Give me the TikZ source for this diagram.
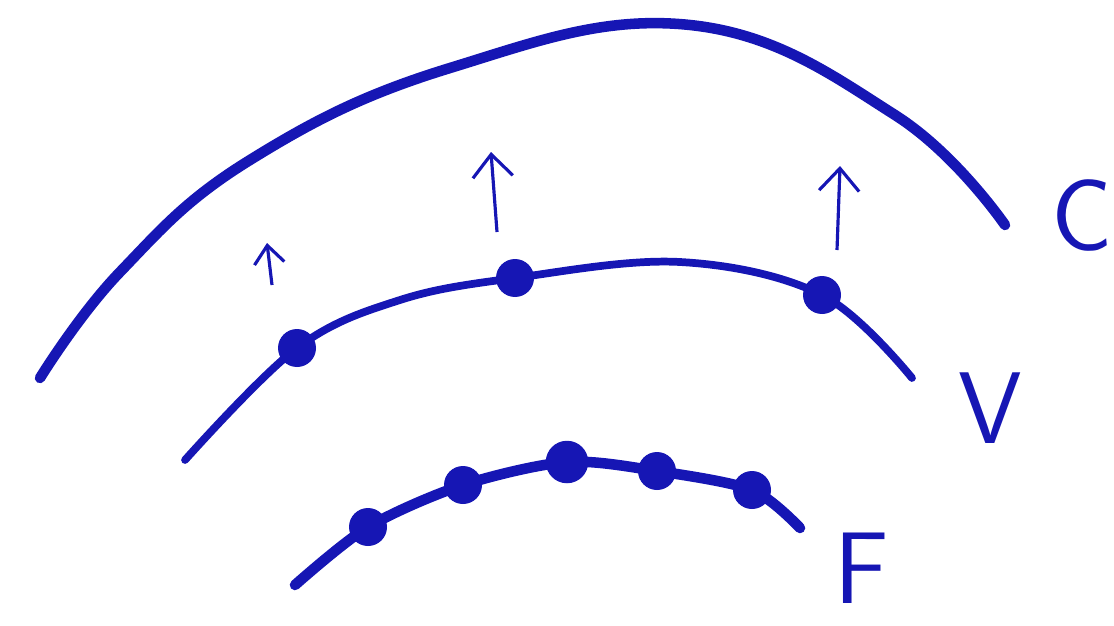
\documentclass[tikz,border=0pt]{standalone}
\usepackage{xcolor}
\usepackage{tikz}
\usetikzlibrary{arrows.meta,positioning}
\definecolor{InkBlue}{HTML}{1616B4}

\begin{document}
\begin{tikzpicture}[
  x=0.02cm,y=-0.02cm,
  curve/.style={draw=InkBlue,line width=5pt,line cap=round,line join=round},
  dot/.style={circle,fill=InkBlue,inner sep=0pt,minimum size=0.76cm},
  up/.style={-{Straight Barb[length=4.5mm,width=8mm]},draw=InkBlue,line width=1.8pt},
  lab/.style={text=InkBlue,font=\fontsize{58}{58}\selectfont\sffamily}
]
  \useasboundingbox (0,0) rectangle (1114,625);
  % C
  \coordinate (c0) at (40,378);
  \coordinate (c1) at (120,272);
  \coordinate (c2) at (250,160);
  \coordinate (c3) at (450,68);
  \coordinate (c4) at (690,25);
  \coordinate (c5) at (895,115);
  \coordinate (c6) at (1005,225);
  \draw[curve,line width=6pt] plot[smooth,tension=0.7] coordinates {(c0) (c1) (c2) (c3) (c4) (c5) (c6)};
  \node[lab] (labC) at (1082,215) {C};
  % V
  \coordinate (v0) at (185,460);
  \node[dot] (v1) at (297,348) {};
  \coordinate (vm) at (400,300);
  \node[dot] (v2) at (515,278) {};
  \coordinate (vn) at (680,262);
  \node[dot] (v3) at (822,295) {};
  \coordinate (v4) at (912,378);
  \draw[curve,line width=4.4pt] plot[smooth,tension=0.6] coordinates {(v0) (v1) (vm) (v2) (vn) (v3) (v4)};
  \node[lab] (labV) at (990,408) {V};
  % arrows
  \coordinate (a1) at (272,285);
  \coordinate (b1) at (267,243);
  \coordinate (a2) at (497,232);
  \coordinate (b2) at (491,152);
  \coordinate (a3) at (837,250);
  \coordinate (b3) at (840,166);
  \draw[up,-{Straight Barb[length=3.6mm,width=6mm]}] (a1) -- (b1);
  \draw[up] (a2) -- (b2);
  \draw[up] (a3) -- (b3);
  % F
  \coordinate (f0) at (295,585);
  \node[dot] (f1) at (368,527) {};
  \node[dot] (f2) at (463,485) {};
  \node[dot,minimum size=0.85cm] (f3) at (567,462) {};
  \node[dot] (f4) at (657,471) {};
  \node[dot] (f5) at (752,490) {};
  \coordinate (f6) at (800,528);
  \draw[curve,line width=6pt] plot[smooth,tension=0.5] coordinates {(f0) (f1) (f2) (f3) (f4) (f5) (f6)};
  \node[lab] (labF) at (862,568) {F};
\end{tikzpicture}
\end{document}
